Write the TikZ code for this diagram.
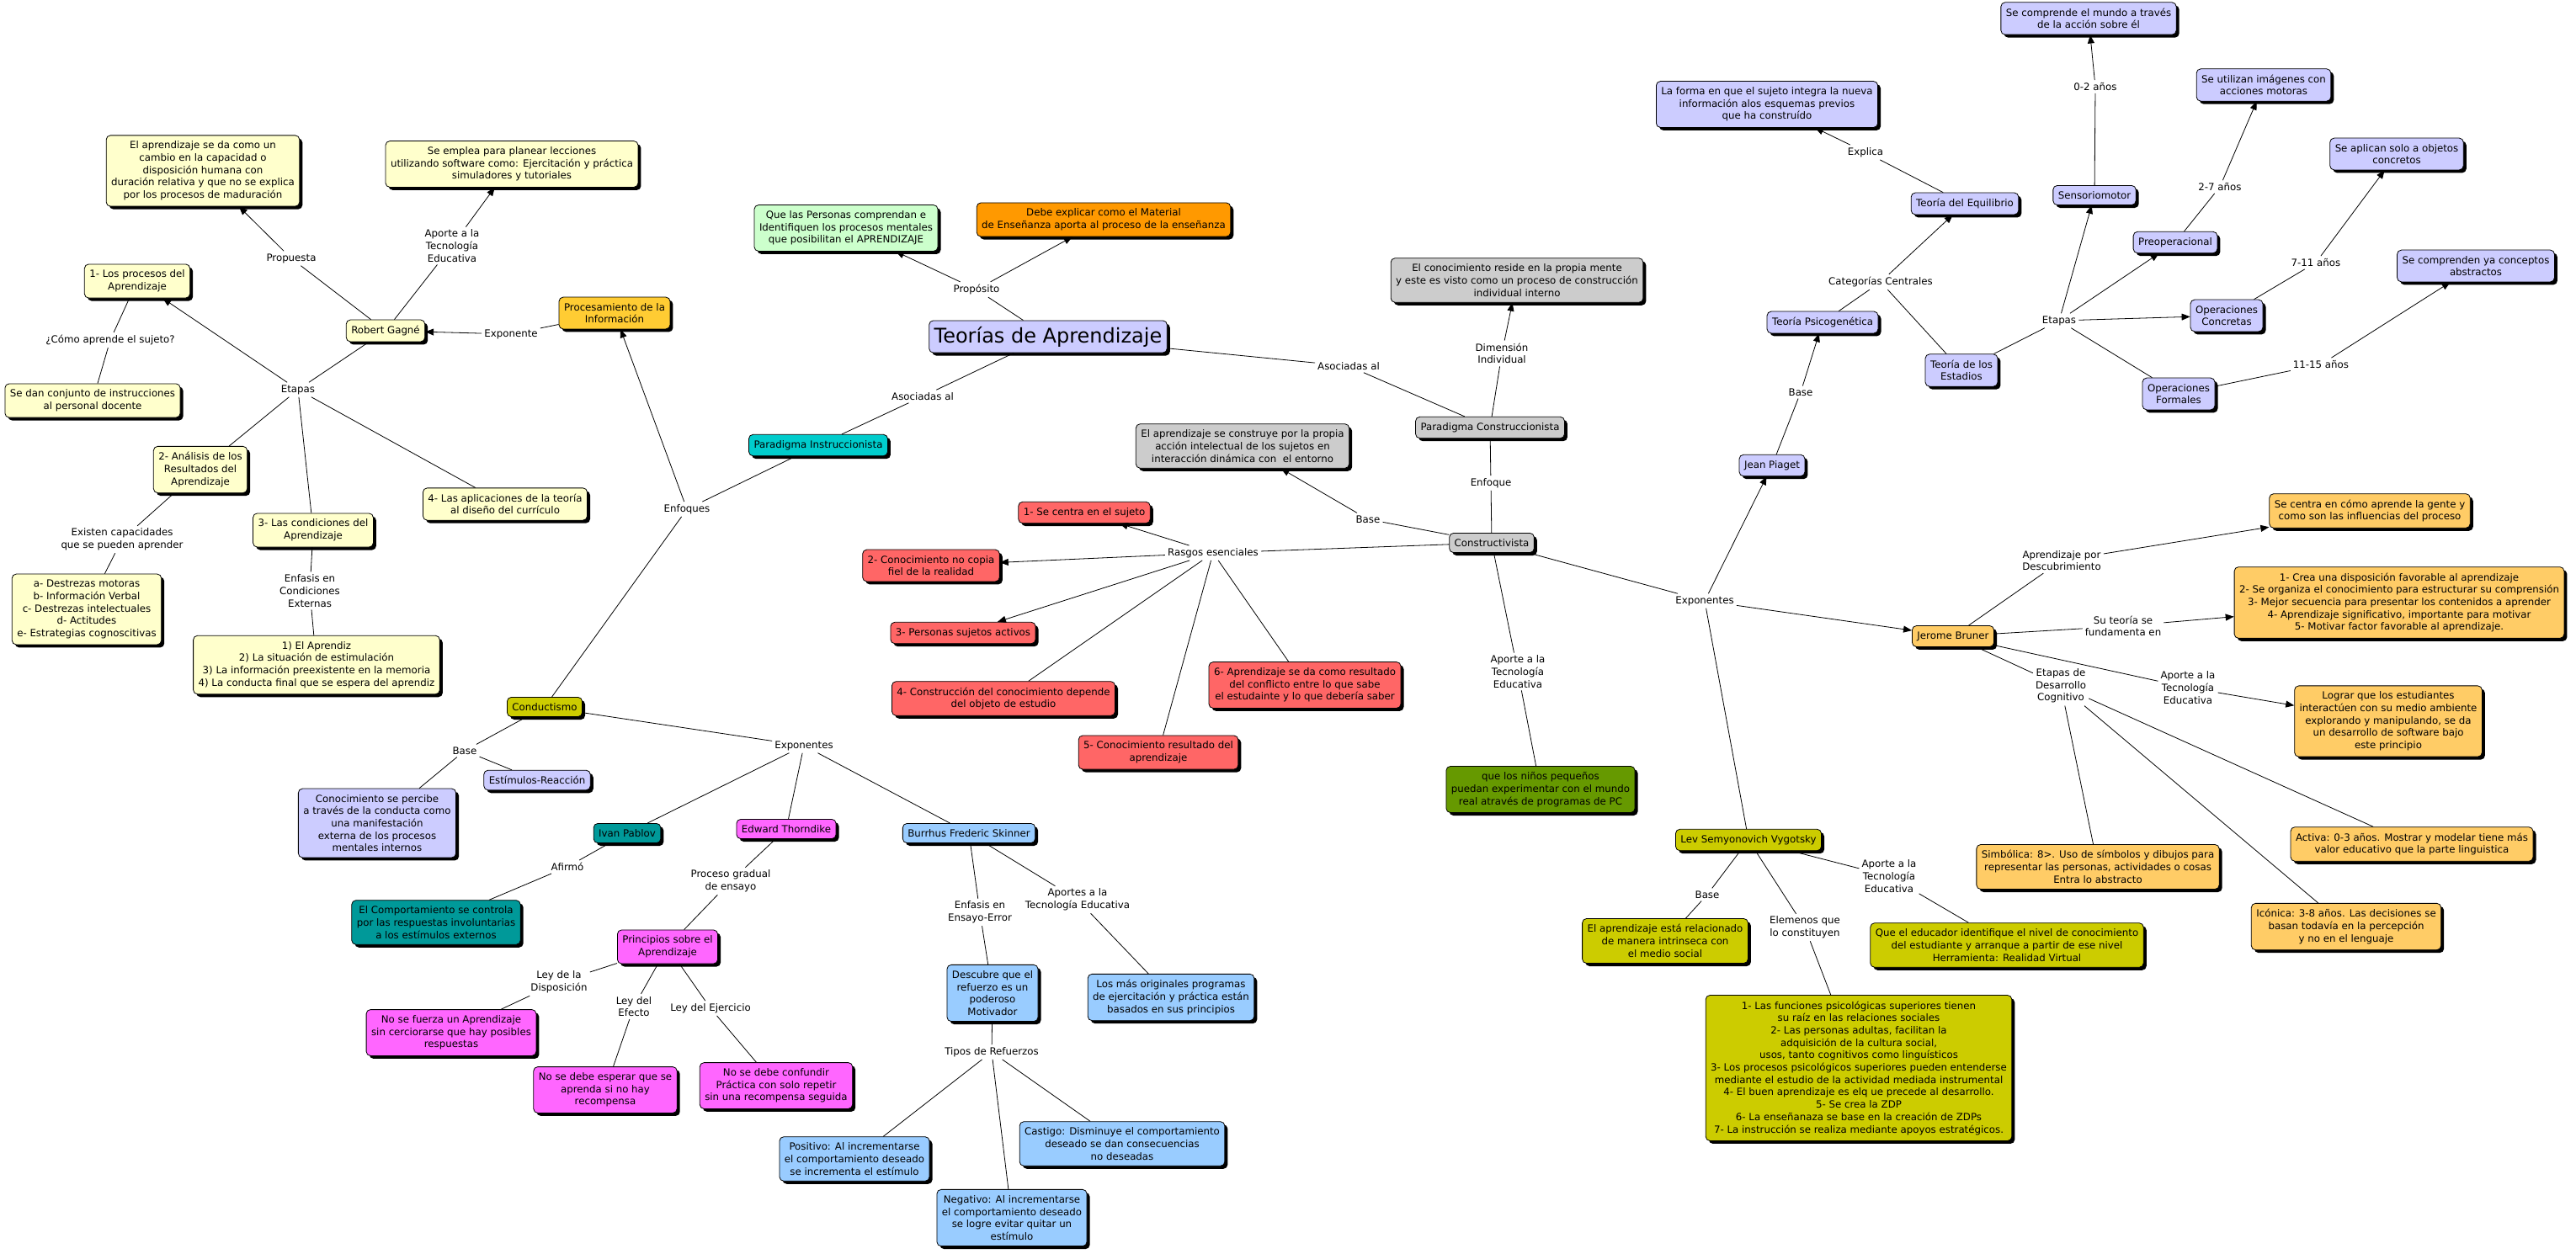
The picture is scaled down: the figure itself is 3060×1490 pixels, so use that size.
\documentclass[tikz,border=0pt]{standalone}
\usepackage{fontspec}
\setmainfont{DejaVu Sans}
\usepackage{tikz}
\usetikzlibrary{arrows.meta,positioning,shadows}
\definecolor{mapaCrema}{HTML}{FFFFCC}
\definecolor{mapaOro}{HTML}{FFCC33}
\definecolor{mapaLila}{HTML}{CCCCFF}
\definecolor{mapaVerdeClaro}{HTML}{CCFFCC}
\definecolor{mapaNaranja}{HTML}{FF9900}
\definecolor{mapaCian}{HTML}{00CCCC}
\definecolor{mapaGris}{HTML}{CCCCCC}
\definecolor{mapaSalmon}{HTML}{FF6666}
\definecolor{mapaOliva}{HTML}{CCCC00}
\definecolor{mapaTeal}{HTML}{009999}
\definecolor{mapaMagenta}{HTML}{FF66FF}
\definecolor{mapaCeleste}{HTML}{99CCFF}
\definecolor{mapaVerde}{HTML}{669900}
\definecolor{mapaMelon}{HTML}{FFCC66}

\begin{document}
\begin{tikzpicture}[x=1pt,y=-1pt,font=\fontsize{11.8}{14.7}\selectfont,
  caja/.style={draw=black,line width=0.8pt,rounded corners=5pt,align=center,
    inner xsep=6pt,inner ysep=7pt,
    drop shadow={shadow xshift=3.5pt,shadow yshift=-3.5pt,fill=black,opacity=1}},
  enlace/.style={align=center,inner sep=3pt},
  flecha/.style={-{Triangle[length=10pt,width=8pt]}},
  linea/.style={line width=0.8pt}]
\useasboundingbox (0,0) rectangle (3060,1490);

% centro del mapa
\node[caja,fill=mapaLila,font=\fontsize{24}{28}\selectfont] (teorias) at (1245,400) {Teorías de Aprendizaje};
\node[caja,fill=mapaVerdeClaro] (personas) at (1005,271) {Que las Personas comprendan e\\Identifiquen los procesos mentales\\que posibilitan el APRENDIZAJE};
\node[caja,fill=mapaNaranja] (material) at (1311,261) {Debe explicar como el Material\\de Enseñanza aporta al proceso de la enseñanza};
\node[caja,fill=mapaCian] (instruc) at (972,529) {Paradigma Instruccionista};
\node[caja,fill=mapaGris] (construc) at (1770,508) {Paradigma Construccionista};
\node[caja,fill=mapaGris] (reside) at (1802,333) {El conocimiento reside en la propia mente\\y este es visto como un proceso de construcción\\individual interno};

% paradigma instruccionista
\node[caja,fill=mapaOro] (procesa) at (730,372) {Procesamiento de la\\Información};
\node[caja,fill=mapaOliva] (conductismo) at (647,840) {Conductismo};
\node[caja,fill=mapaCrema] (gagne) at (458,393) {Robert Gagné};
\node[caja,fill=mapaCrema] (cambio) at (241,203) {El aprendizaje se da como un\\cambio en la capacidad o\\disposición humana con\\duración relativa y que no se explica\\por los procesos de maduración};
\node[caja,fill=mapaCrema] (emplea) at (608,195) {Se emplea para planear lecciones\\utilizando software como: Ejercitación y práctica\\simuladores y tutoriales};
\node[caja,fill=mapaCrema] (procesos) at (163,334) {1- Los procesos del\\Aprendizaje};
\node[caja,fill=mapaCrema] (instrucciones) at (110,476) {Se dan conjunto de instrucciones\\al personal docente};
\node[caja,fill=mapaCrema] (analisis) at (238,558) {2- Análisis de los\\Resultados del\\Aprendizaje};
\node[caja,fill=mapaCrema] (condiciones) at (372,630) {3- Las condiciones del\\Aprendizaje};
\node[caja,fill=mapaCrema] (aplicaciones) at (600,599) {4- Las aplicaciones de la teoría\\al diseño del currículo};
\node[caja,fill=mapaCrema] (destrezas) at (103,724) {a- Destrezas motoras\\b- Información Verbal\\c- Destrezas intelectuales\\d- Actitudes\\e- Estrategias cognoscitivas};
\node[caja,fill=mapaCrema] (aprendiz) at (376,790) {1) El Aprendiz\\2) La situación de estimulación\\3) La información preexistente en la memoria\\4) La conducta final que se espera del aprendiz};
\node[caja,fill=mapaLila] (percibe) at (448,978) {Conocimiento se percibe\\a través de la conducta como\\una manifestación\\externa de los procesos\\mentales internos};
\node[caja,fill=mapaLila] (estimulos) at (638,927) {Estímulos-Reacción};
\node[caja,fill=mapaTeal] (pablov) at (745,990) {Ivan Pablov};
\node[caja,fill=mapaMagenta] (thorndike) at (934,985) {Edward Thorndike};
\node[caja,fill=mapaCeleste] (skinner) at (1151,990) {Burrhus Frederic Skinner};
\node[caja,fill=mapaTeal] (comportamiento) at (518,1096) {El Comportamiento se controla\\por las respuestas involuntarias\\a los estímulos externos};
\node[caja,fill=mapaMagenta] (principios) at (793,1125) {Principios sobre el\\Aprendizaje};
\node[caja,fill=mapaMagenta] (fuerza) at (536,1227) {No se fuerza un Aprendizaje\\sin cerciorarse que hay posibles\\respuestas};
\node[caja,fill=mapaMagenta] (esperar) at (719,1295) {No se debe esperar que se\\aprenda si no hay\\recompensa};
\node[caja,fill=mapaMagenta] (confundir) at (922,1290) {No se debe confundir\\Práctica con solo repetir\\sin una recompensa seguida};
\node[caja,fill=mapaCeleste] (descubre) at (1179,1180) {Descubre que el\\refuerzo es un\\poderoso\\Motivador};
\node[caja,fill=mapaCeleste] (originales) at (1391,1185) {Los más originales programas\\de ejercitación y práctica están\\basados en sus principios};
\node[caja,fill=mapaCeleste] (positivo) at (1015,1377) {Positivo: Al incrementarse\\el comportamiento deseado\\se incrementa el estímulo};
\node[caja,fill=mapaCeleste] (negativo) at (1202,1447) {Negativo: Al incrementarse\\el comportamiento deseado\\se logre evitar quitar un\\estímulo};
\node[caja,fill=mapaCeleste] (castigo) at (1333,1359) {Castigo: Disminuye el comportamiento\\deseado se dan consecuencias\\no deseadas};

% paradigma construccionista
\node[caja,fill=mapaGris] (construye) at (1476,530) {El aprendizaje se construye por la propia\\acción intelectual de los sujetos en\\interacción dinámica con\ \ el entorno};
\node[caja,fill=mapaGris] (constructivista) at (1772,645) {Constructivista};
\node[caja,fill=mapaSalmon] (rasgo1) at (1288,609) {1- Se centra en el sujeto};
\node[caja,fill=mapaSalmon] (rasgo2) at (1106,672) {2- Conocimiento no copia\\fiel de la realidad};
\node[caja,fill=mapaSalmon] (rasgo3) at (1144,752) {3- Personas sujetos activos};
\node[caja,fill=mapaSalmon] (rasgo4) at (1192,830) {4- Construcción del conocimiento depende\\del objeto de estudio};
\node[caja,fill=mapaSalmon] (rasgo5) at (1376,894) {5- Conocimiento resultado del\\aprendizaje};
\node[caja,fill=mapaSalmon] (rasgo6) at (1550,814) {6- Aprendizaje se da como resultado\\del conflicto entre lo que sabe\\el estudainte y lo que debería saber};
\node[caja,fill=mapaVerde] (ninos) at (1830,938) {que los niños pequeños\\puedan experimentar con el mundo\\real através de programas de PC};

% Piaget
\node[caja,fill=mapaLila] (piaget) at (2105,553) {Jean Piaget};
\node[caja,fill=mapaLila] (psicogenetica) at (2165,383) {Teoría Psicogenética};
\node[caja,fill=mapaLila] (equilibrio) at (2334,242) {Teoría del Equilibrio};
\node[caja,fill=mapaLila] (estadios) at (2330,440) {Teoría de los\\Estadios};
\node[caja,fill=mapaLila] (forma) at (2099,124) {La forma en que el sujeto integra la nueva\\información alos esquemas previos\\que ha construído};
\node[caja,fill=mapaLila] (sensorio) at (2488,232) {Sensoriomotor};
\node[caja,fill=mapaLila] (preop) at (2584,288) {Preoperacional};
\node[caja,fill=mapaLila] (concretas) at (2645,375) {Operaciones\\Concretas};
\node[caja,fill=mapaLila] (formales) at (2588,468) {Operaciones\\Formales};
\node[caja,fill=mapaLila] (mundo) at (2481,22) {Se comprende el mundo a través\\de la acción sobre él};
\node[caja,fill=mapaLila] (imagenes) at (2689,101) {Se utilizan imágenes con\\acciones motoras};
\node[caja,fill=mapaLila] (objetos) at (2847,183) {Se aplican solo a objetos\\concretos};
\node[caja,fill=mapaLila] (abstractos) at (2941,316) {Se comprenden ya conceptos\\abstractos};

% Bruner
\node[caja,fill=mapaMelon] (bruner) at (2320,756) {Jerome Bruner};
\node[caja,fill=mapaMelon] (gente) at (2815,607) {Se centra en cómo aprende la gente y\\como son las influencias del proceso};
\node[caja,fill=mapaMelon] (crea) at (2850,716) {1- Crea una disposición favorable al aprendizaje\\2- Se organiza el conocimiento para estructurar su comprensión\\3- Mejor secuencia para presentar los contenidos a aprender\\4- Aprendizaje significativo, importante para motivar\\5- Motivar factor favorable al aprendizaje.};
\node[caja,fill=mapaMelon] (lograr) at (2837,857) {Lograr que los estudiantes\\interactúen con su medio ambiente\\explorando y manipulando, se da\\un desarrollo de software bajo\\este principio};
\node[caja,fill=mapaMelon] (activa) at (2865,1003) {Activa: 0-3 años. Mostrar y modelar tiene más\\valor educativo que la parte linguistica};
\node[caja,fill=mapaMelon] (simbolica) at (2492,1030) {Simbólica: 8>. Uso de símbolos y dibujos para\\representar las personas, actividades o cosas\\Entra lo abstracto};
\node[caja,fill=mapaMelon] (iconica) at (2787,1101) {Icónica: 3-8 años. Las decisiones se\\basan todavía en la percepción\\y no en el lenguaje};

% Vygotsky
\node[caja,fill=mapaOliva] (vygotsky) at (2077,998) {Lev Semyonovich Vygotsky};
\node[caja,fill=mapaOliva] (social) at (1978,1118) {El aprendizaje está relacionado\\de manera intrinseca con\\el medio social};
\node[caja,fill=mapaOliva] (educador) at (2384,1123) {Que el educador identifique el nivel de conocimiento\\del estudiante y arranque a partir de ese nivel\\Herramienta: Realidad Virtual};
\node[caja,fill=mapaOliva] (funciones) at (2208,1269) {1- Las funciones psicológicas superiores tienen\\su raíz en las relaciones sociales\\2- Las personas adultas, facilitan la\\adquisición de la cultura social,\\usos, tanto cognitivos como linguísticos\\3- Los procesos psicológicos superiores pueden entenderse\\mediante el estudio de la actividad mediada instrumental\\4- El buen aprendizaje es elq ue precede al desarrollo.\\5- Se crea la ZDP\\6- La enseñanaza se base en la creación de ZDPs\\7- La instrucción se realiza mediante apoyos estratégicos.};

% palabras de enlace
\node[enlace] (lProposito) at (1160,344) {Propósito};
\node[enlace] (lAsocI) at (1096,471) {Asociadas al};
\node[enlace] (lAsocD) at (1602,435) {Asociadas al};
\node[enlace] (lEnfoques) at (816,605) {Enfoques};
\node[enlace] (lExponente) at (607,397) {Exponente};
\node[enlace] (lPropuesta) at (346,307) {Propuesta};
\node[enlace] (lAporteG) at (537,292) {Aporte a la\\Tecnología\\Educativa};
\node[enlace] (lEtapasG) at (354,463) {Etapas};
\node[enlace] (lComo) at (131,404) {¿Cómo aprende el sujeto?};
\node[enlace] (lExisten) at (145,641) {Existen capacidades\\que se pueden aprender};
\node[enlace] (lEnfasisC) at (368,702) {Enfasis en\\Condiciones\\Externas};
\node[enlace] (lBaseC) at (552,892) {Base};
\node[enlace] (lExpC) at (955,886) {Exponentes};
\node[enlace] (lAfirmo) at (674,1030) {Afirmó};
\node[enlace] (lProceso) at (868,1047) {Proceso gradual\\de ensayo};
\node[enlace] (lLeyDisp) at (664,1167) {Ley de la\\Disposición};
\node[enlace] (lLeyEfecto) at (753,1196) {Ley del\\Efecto};
\node[enlace] (lLeyEjer) at (844,1198) {Ley del Ejercicio};
\node[enlace] (lEnsayo) at (1164,1084) {Enfasis en\\Ensayo-Error};
\node[enlace] (lAportesS) at (1280,1069) {Aportes a la\\Tecnología Educativa};
\node[enlace] (lTipos) at (1178,1250) {Tipos de Refuerzos};
\node[enlace] (lDimension) at (1784,420) {Dimensión\\Individual};
\node[enlace] (lEnfoque) at (1771,574) {Enfoque};
\node[enlace] (lBaseK) at (1625,617) {Base};
\node[enlace] (lRasgos) at (1441,657) {Rasgos esenciales};
\node[enlace] (lAporteK) at (1803,798) {Aporte a la\\Tecnología\\Educativa};
\node[enlace] (lExpK) at (2025,714) {Exponentes};
\node[enlace] (lBaseP) at (2139,466) {Base};
\node[enlace] (lCategorias) at (2234,335) {Categorías Centrales};
\node[enlace] (lExplica) at (2216,181) {Explica};
\node[enlace] (lEtapasP) at (2446,381) {Etapas};
\node[enlace] (l02) at (2489,103) {0-2 años};
\node[enlace] (l27) at (2637,222) {2-7 años};
\node[enlace] (l711) at (2751,312) {7-11 años};
\node[enlace] (l1115) at (2757,433) {11-15 años};
\node[enlace] (lDescub) at (2449,666) {Aprendizaje por\\Descubrimiento};
\node[enlace] (lSuTeoria) at (2522,744) {Su teoría se\\fundamenta en};
\node[enlace] (lEtapasB) at (2448,815) {Etapas de\\Desarrollo\\Cognitivo};
\node[enlace] (lAporteB) at (2599,817) {Aporte a la\\Tecnología\\Educativa};
\node[enlace] (lBaseV) at (2028,1063) {Base};
\node[enlace] (lElem) at (2144,1102) {Elemenos que\\lo constituyen};
\node[enlace] (lAporteV) at (2244,1041) {Aporte a la\\Tecnología\\Educativa};

% conectores
\draw[linea] (teorias) -- (lProposito);
\draw[linea,flecha] (lProposito) -- (personas);
\draw[linea,flecha] (lProposito) -- (material);
\draw[linea] (teorias) -- (lAsocI) -- (instruc);
\draw[linea] (teorias) -- (lAsocD) -- (construc);
\draw[linea] (instruc) -- (lEnfoques) -- (conductismo);
\draw[linea,flecha] (lEnfoques) -- (procesa);
\draw[linea] (procesa) -- (lExponente);
\draw[linea,flecha] (lExponente) -- (gagne);
\draw[linea] (gagne) -- (lPropuesta);
\draw[linea,flecha] (lPropuesta) -- (cambio);
\draw[linea] (gagne) -- (lAporteG);
\draw[linea,flecha] (lAporteG) -- (emplea);
\draw[linea] (gagne) -- (lEtapasG);
\draw[linea,flecha] (lEtapasG) -- (procesos);
\foreach \n in {analisis,condiciones,aplicaciones}
  \draw[linea] (lEtapasG) -- (\n);
\draw[linea] (procesos) -- (lComo) -- (instrucciones);
\draw[linea] (analisis) -- (lExisten) -- (destrezas);
\draw[linea] (condiciones) -- (lEnfasisC) -- (aprendiz);
\draw[linea] (conductismo) -- (lBaseC);
\draw[linea] (lBaseC) -- (percibe);
\draw[linea] (lBaseC) -- (estimulos);
\draw[linea] (conductismo) -- (lExpC);
\foreach \n in {pablov,thorndike,skinner}
  \draw[linea] (lExpC) -- (\n);
\draw[linea] (pablov) -- (lAfirmo) -- (comportamiento);
\draw[linea] (thorndike) -- (lProceso) -- (principios);
\draw[linea] (principios) -- (lLeyDisp) -- (fuerza);
\draw[linea] (principios) -- (lLeyEfecto) -- (esperar);
\draw[linea] (principios) -- (lLeyEjer) -- (confundir);
\draw[linea] (skinner) -- (lEnsayo) -- (descubre);
\draw[linea] (skinner) -- (lAportesS) -- (originales);
\draw[linea] (descubre) -- (lTipos);
\foreach \n in {positivo,negativo,castigo}
  \draw[linea] (lTipos) -- (\n);
\draw[linea] (construc) -- (lDimension);
\draw[linea,flecha] (lDimension) -- (reside);
\draw[linea] (construc) -- (lEnfoque) -- (constructivista);
\draw[linea] (constructivista) -- (lBaseK);
\draw[linea,flecha] (lBaseK) -- (construye);
\draw[linea] (constructivista) -- (lRasgos);
\foreach \n in {rasgo1,rasgo2,rasgo3}
  \draw[linea,flecha] (lRasgos) -- (\n);
\foreach \n in {rasgo4,rasgo5,rasgo6}
  \draw[linea] (lRasgos) -- (\n);
\draw[linea] (constructivista) -- (lAporteK) -- (ninos);
\draw[linea] (constructivista) -- (lExpK);
\draw[linea,flecha] (lExpK) -- (piaget);
\draw[linea,flecha] (lExpK) -- (bruner);
\draw[linea] (lExpK) -- (vygotsky);
\draw[linea] (piaget) -- (lBaseP);
\draw[linea,flecha] (lBaseP) -- (psicogenetica);
\draw[linea] (psicogenetica) -- (lCategorias);
\draw[linea,flecha] (lCategorias) -- (equilibrio);
\draw[linea] (lCategorias) -- (estadios);
\draw[linea] (equilibrio) -- (lExplica);
\draw[linea,flecha] (lExplica) -- (forma);
\draw[linea] (estadios) -- (lEtapasP);
\foreach \n in {sensorio,preop,concretas}
  \draw[linea,flecha] (lEtapasP) -- (\n);
\draw[linea] (lEtapasP) -- (formales);
\draw[linea] (sensorio) -- (l02);
\draw[linea,flecha] (l02) -- (mundo);
\draw[linea] (preop) -- (l27);
\draw[linea,flecha] (l27) -- (imagenes);
\draw[linea] (concretas) -- (l711);
\draw[linea,flecha] (l711) -- (objetos);
\draw[linea] (formales) -- (l1115);
\draw[linea,flecha] (l1115) -- (abstractos);
\draw[linea] (bruner) -- (lDescub);
\draw[linea,flecha] (lDescub) -- (gente);
\draw[linea] (bruner) -- (lSuTeoria);
\draw[linea,flecha] (lSuTeoria) -- (crea);
\draw[linea] (bruner) -- (lAporteB);
\draw[linea,flecha] (lAporteB) -- (lograr);
\draw[linea] (bruner) -- (lEtapasB);
\foreach \n in {simbolica,iconica,activa}
  \draw[linea] (lEtapasB) -- (\n);
\draw[linea] (vygotsky) -- (lBaseV) -- (social);
\draw[linea] (vygotsky) -- (lElem) -- (funciones);
\draw[linea] (vygotsky) -- (lAporteV) -- (educador);
\end{tikzpicture}
\end{document}
